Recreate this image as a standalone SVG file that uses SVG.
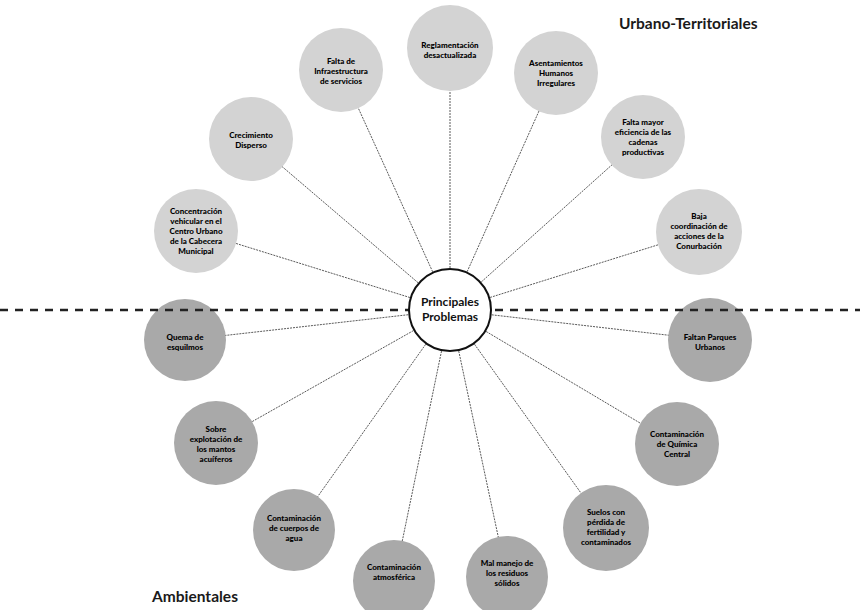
<svg xmlns="http://www.w3.org/2000/svg" width="860" height="610" viewBox="0 0 860 610">
<style>
.up{fill:#d3d3d3}
.low{fill:#a9a9a9}
.t{font-family:Lato,"Liberation Sans",sans-serif;font-weight:900;font-size:8px;fill:#000;text-anchor:middle}
.c{stroke:#5a5a5a;stroke-width:1;stroke-dasharray:2 1;fill:none}
.h{font-family:Lato,"Open Sans",sans-serif;font-weight:bold;font-size:15.5px;fill:#1a1a1a}
</style>
<rect width="860" height="610" fill="#fff"/>
<g id="connectors">
<line class="c" x1="450" y1="310" x2="450" y2="48"/>
<line class="c" x1="450" y1="310" x2="341" y2="70"/>
<line class="c" x1="450" y1="310" x2="251" y2="140"/>
<line class="c" x1="450" y1="310" x2="196" y2="231"/>
<line class="c" x1="450" y1="310" x2="556" y2="73"/>
<line class="c" x1="450" y1="310" x2="643" y2="137"/>
<line class="c" x1="450" y1="310" x2="699" y2="232"/>
<line class="c" x1="450" y1="310" x2="185" y2="340"/>
<line class="c" x1="450" y1="310" x2="216" y2="442"/>
<line class="c" x1="450" y1="310" x2="294" y2="530"/>
<line class="c" x1="450" y1="310" x2="394" y2="581"/>
<line class="c" x1="450" y1="310" x2="507" y2="578"/>
<line class="c" x1="450" y1="310" x2="606" y2="528"/>
<line class="c" x1="450" y1="310" x2="677" y2="445"/>
<line class="c" x1="450" y1="310" x2="710" y2="340"/>
</g>
<g id="n1"><circle class="up" cx="450" cy="48" r="43"/><text class="t" x="450" y="48">Reglamentación</text><text class="t" x="450" y="58">desactualizada</text></g>
<g id="n2"><circle class="up" cx="341" cy="70" r="42"/><text class="t" x="341" y="64">Falta de</text><text class="t" x="341" y="74">Infraestructura</text><text class="t" x="341" y="84">de servicios</text></g>
<g id="n3"><circle class="up" cx="251" cy="139" r="42"/><text class="t" x="251" y="138">Crecimiento</text><text class="t" x="251" y="148">Disperso</text></g>
<g id="n4"><circle class="up" cx="196" cy="231" r="42"/><text class="t" x="196" y="214">Concentración</text><text class="t" x="196" y="224">vehicular en el</text><text class="t" x="196" y="234">Centro Urbano</text><text class="t" x="196" y="244">de la Cabecera</text><text class="t" x="196" y="254">Municipal</text></g>
<g id="n5"><circle class="up" cx="556" cy="73" r="42"/><text class="t" x="556" y="66">Asentamientos</text><text class="t" x="556" y="76">Humanos</text><text class="t" x="556" y="86">Irregulares</text></g>
<g id="n6"><circle class="up" cx="643" cy="137" r="42"/><text class="t" x="643" y="125">Falta mayor</text><text class="t" x="643" y="135">eficiencia de las</text><text class="t" x="643" y="145">cadenas</text><text class="t" x="643" y="155">productivas</text></g>
<g id="n7"><circle class="up" cx="699" cy="232" r="43"/><text class="t" x="699" y="219">Baja</text><text class="t" x="699" y="229">coordinación de</text><text class="t" x="699" y="239">acciones de la</text><text class="t" x="699" y="249">Conurbación</text></g>
<g id="n8"><circle class="low" cx="185" cy="340" r="41"/><text class="t" x="185" y="340">Quema de</text><text class="t" x="185" y="350">esquilmos</text></g>
<g id="n9"><circle class="low" cx="216" cy="443" r="42"/><text class="t" x="216" y="432">Sobre</text><text class="t" x="216" y="442">explotación de</text><text class="t" x="216" y="452">los mantos</text><text class="t" x="216" y="462">acuíferos</text></g>
<g id="n10"><circle class="low" cx="294" cy="530" r="41"/><text class="t" x="294" y="521">Contaminación</text><text class="t" x="294" y="531">de cuerpos de</text><text class="t" x="294" y="541">agua</text></g>
<g id="n11"><circle class="low" cx="394" cy="581" r="41"/><text class="t" x="394" y="570">Contaminación</text><text class="t" x="394" y="580">atmosférica</text></g>
<g id="n12"><circle class="low" cx="507" cy="577" r="41"/><text class="t" x="507" y="566">Mal manejo de</text><text class="t" x="507" y="576">los residuos</text><text class="t" x="507" y="586">sólidos</text></g>
<g id="n13"><circle class="low" cx="606" cy="528" r="43"/><text class="t" x="606" y="515">Suelos con</text><text class="t" x="606" y="525">pérdida de</text><text class="t" x="606" y="535">fertilidad y</text><text class="t" x="606" y="545">contaminados</text></g>
<g id="n14"><circle class="low" cx="677" cy="444" r="42"/><text class="t" x="677" y="437">Contaminación</text><text class="t" x="677" y="447">de Química</text><text class="t" x="677" y="457">Central</text></g>
<g id="n15"><circle class="low" cx="710" cy="340" r="42"/><text class="t" x="710" y="340">Faltan Parques</text><text class="t" x="710" y="350">Urbanos</text></g>
<line id="divider" x1="0" y1="310" x2="860" y2="310" stroke="#222" stroke-width="2.5" stroke-dasharray="8 7"/>
<g id="center"><circle cx="450" cy="310" r="41" fill="#fff" stroke="#111" stroke-width="2"/><text x="450" y="306" text-anchor="middle" font-family="Lato,'Liberation Sans',sans-serif" font-weight="bold" font-size="12" fill="#111">Principales</text><text x="450" y="321" text-anchor="middle" font-family="Lato,'Liberation Sans',sans-serif" font-weight="bold" font-size="12" fill="#111">Problemas</text></g>
<text class="h" x="619" y="29">Urbano-Territoriales</text>
<text class="h" x="152" y="602">Ambientales</text>
</svg>
